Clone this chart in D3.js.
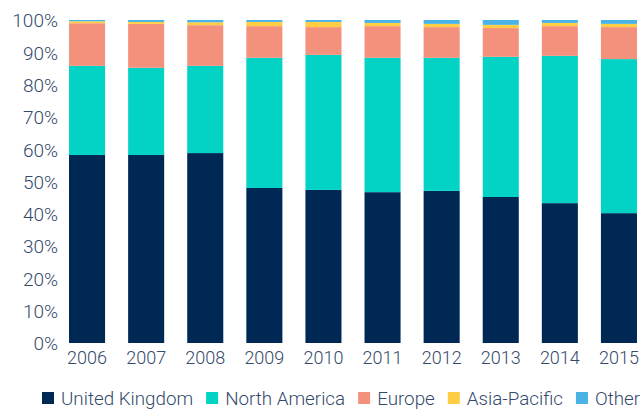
<!DOCTYPE html>
<html>
<head>
<meta charset="utf-8">
<title>Share by region</title>
<script src="https://d3js.org/d3.v7.min.js"></script>
<style>
  body { margin: 0; background: #fff; }
  text { font-family: Roboto, "Liberation Sans", sans-serif; fill: #344a6b; font-weight: 300; }
</style>
</head>
<body>
<svg id="chart" width="641" height="409"></svg>
<script>
// data (share of total, %)
var years = ["2006", "2007", "2008", "2009", "2010", "2011", "2012", "2013", "2014", "2015"];
var regions = ["United Kingdom", "North America", "Europe", "Asia-Pacific", "Other"];
var ukValues     = [58.2, 58.2, 58.8, 48.0, 47.4, 46.7, 47.1, 45.2, 43.3, 40.2];
var naValues     = [27.6, 27.0, 27.0, 40.3, 41.8, 41.6, 41.2, 43.4, 45.6, 47.7];
var europeValues = [13.2, 13.6, 12.6, 9.8, 8.6, 9.8, 9.5, 8.9, 9.2, 9.9];
var asiaValues   = [0.6, 0.6, 0.9, 1.3, 1.6, 1.0, 1.0, 1.0, 1.0, 1.0];
var otherValues  = [0.4, 0.6, 0.7, 0.6, 0.6, 0.9, 1.2, 1.5, 0.9, 1.2];
var yTicks = [0, 10, 20, 30, 40, 50, 60, 70, 80, 90, 100];

var colors = ["#002855", "#03d3c5", "#f4917c", "#ffcd44", "#4ab3e5"];

// build rows for d3.stack
var series = [ukValues, naValues, europeValues, asiaValues, otherValues];
var rows = years.map(function(y, i) {
    var r = { year: y };
    regions.forEach(function(k, j) { r[k] = series[j][i]; });
    return r;
});

var svg = d3.select("#chart");

var x = d3.scaleBand()
    .domain(years)
    .range([57.5, 648.5])
    .paddingInner(0.39)
    .paddingOuter(0.195);

var y = d3.scaleLinear()
    .domain([0, 100])
    .range([343, 20]);

var stacked = d3.stack().keys(regions)(rows);

// bars
svg.append("g").selectAll("g")
    .data(stacked)
    .enter().append("g")
    .attr("fill", function(d, i) { return colors[i]; })
    .selectAll("rect")
    .data(function(d) { return d; })
    .enter().append("rect")
    .attr("x", function(d) { return x(d.data.year); })
    .attr("y", function(d) { return y(d[1]); })
    .attr("width", x.bandwidth())
    .attr("height", function(d) { return y(d[0]) - y(d[1]); });

// y axis, labels only
var yAxis = svg.append("g")
    .attr("transform", "translate(58,0)")
    .call(d3.axisLeft(y).tickValues(yTicks).tickSize(0).tickPadding(0)
        .tickFormat(function(d) { return d + "%"; }));
yAxis.select(".domain").remove();
yAxis.selectAll("text")
    .style("font-size", "19px")
    .attr("fill", "#344a6b")
    .attr("dy", "0.36em")
    .style("font-family", "Roboto, sans-serif");

// x axis, labels only
var xAxis = svg.append("g")
    .attr("transform", "translate(0,343)")
    .call(d3.axisBottom(x).tickSize(0).tickPadding(8));
xAxis.select(".domain").remove();
xAxis.selectAll("text")
    .style("font-size", "18px")
    .attr("fill", "#344a6b")
    .style("font-family", "Roboto, sans-serif");

// legend
var legend = svg.append("g").attr("transform", "translate(42,398)");
var lx = 0;
regions.forEach(function(name, i) {
    legend.append("rect")
        .attr("x", lx).attr("y", -6)
        .attr("width", 12).attr("height", 12)
        .attr("fill", colors[i]);
    var t = legend.append("text")
        .attr("x", lx + 19).attr("y", 6.5)
        .style("font-size", "18.8px")
        .text(name);
    lx += 19 + t.node().getComputedTextLength() + 13;
});
</script>
</body>
</html>
